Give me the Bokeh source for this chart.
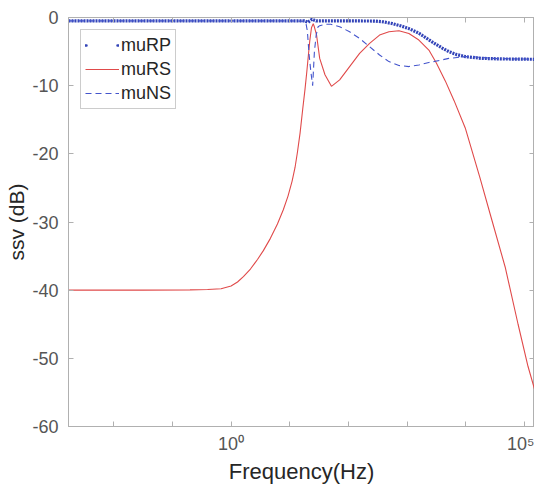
import numpy as np
from bokeh.plotting import figure
from bokeh.models import (FixedTicker, LogAxis, LinearAxis, Legend, LegendItem,
                          ColumnDataSource, Range1d)
from bokeh.embed import file_html
from bokeh.resources import INLINE

# ---------------- data (log10 of frequency in Hz, level in dB) ----------------
logf_rp = [-2.77, 1.25, 1.31, 1.38, 1.45, 2.02, 2.45, 2.60, 2.75, 2.90, 3.05, 3.20,
           3.42, 3.60, 3.71, 3.85, 3.99, 4.26, 4.60, 5.17]
db_rp = [-0.5, -0.5, -0.7, -0.25, -0.5, -0.5, -0.52, -0.65, -0.9, -1.25, -1.7, -2.3,
         -3.55, -4.5, -5.0, -5.45, -5.74, -5.99, -6.08, -6.13]

logf_rs = [-2.77, -1.50, -0.70, -0.40, -0.17, 0.00, 0.11, 0.21, 0.33, 0.45, 0.55, 0.67,
           0.79, 0.89, 0.97, 1.04, 1.09, 1.13, 1.175, 1.22, 1.26, 1.29, 1.34, 1.37,
           1.40, 1.42, 1.457, 1.51, 1.60, 1.71, 1.85, 2.02, 2.19, 2.36, 2.53, 2.69,
           2.86, 3.03, 3.20, 3.37, 3.50, 3.65, 3.80, 3.99, 4.24, 4.43, 4.67, 4.89,
           5.06, 5.17]
db_rs = [-40.0, -40.0, -39.95, -39.9, -39.8, -39.4, -38.8, -38.0, -36.9, -35.5, -34.2, -32.4,
         -30.3, -28.2, -26.2, -24.0, -22.0, -19.8, -17.0, -13.5, -10.5, -8.0, -3.5, -1.5,
         -0.9, -1.4, -2.6, -6.0, -8.4, -10.1, -9.15, -7.2, -5.26, -3.8, -2.58, -2.09,
         -1.94, -2.34, -3.31, -4.77, -6.7, -9.3, -12.2, -16.2, -23.5, -29.3, -36.6, -45.0,
         -51.2, -54.5]

logf_ns = [-2.77, 1.00, 1.27, 1.30, 1.33, 1.36, 1.39, 1.42, 1.45, 1.48, 1.51, 1.60,
           1.70, 1.85, 2.02, 2.19, 2.36, 2.53, 2.69, 2.86, 3.03, 3.20, 3.37, 3.55,
           3.71, 3.99, 4.10, 4.50, 5.17]
db_ns = [-0.5, -0.5, -0.55, -2.0, -5.5, -8.0, -10.0, -5.0, -2.6, -1.4, -1.2, -1.0,
         -1.0, -1.36, -2.09, -3.07, -4.28, -5.5, -6.47, -7.05, -7.2, -6.96, -6.6, -6.3,
         -6.0, -5.74, -5.75, -6.02, -6.12]

x_limits_log = [-2.77, 5.17]
y_limits = [-60, 0]
y_ticks = [-60, -50, -40, -30, -20, -10, 0]
x_major_ticks = [1, 100000]
x_minor_ticks = [0.01, 0.1, 10, 100, 1000, 10000]
x_tick_labels = {1: "10\u2070", 100000: "10\u2075"}
y_tick_labels = {t: str(t) for t in y_ticks}

f_rp = [10 ** v for v in logf_rp]
f_rs = [10 ** v for v in logf_rs]
f_ns = [10 ** v for v in logf_ns]

FONT = "Liberation Sans"
AXC = "#b0b0b0"
TICKC = "#555555"
LABC = "#262626"

p = figure(width=534, height=486, x_axis_type="log",
           x_range=Range1d(10 ** x_limits_log[0], 10 ** x_limits_log[1]),
           y_range=Range1d(*y_limits),
           output_backend="svg", toolbar_location=None,
           min_border_left=68, min_border_right=0, min_border_top=17, min_border_bottom=40)
p.grid.visible = False
p.outline_line_color = AXC
p.background_fill_color = "white"
p.border_fill_color = "white"

xt = FixedTicker(ticks=x_major_ticks, minor_ticks=x_minor_ticks)
yt = FixedTicker(ticks=y_ticks, minor_ticks=[])

xa = p.below[0]
xa.ticker = xt
xa.major_label_overrides = x_tick_labels
xa.axis_label = "Frequency(Hz)"
ya = p.left[0]
ya.ticker = yt
ya.major_label_overrides = y_tick_labels
ya.axis_label = "ssv (dB)"

for ax in (xa, ya):
    ax.axis_line_color = AXC
    ax.major_tick_line_color = AXC
    ax.minor_tick_line_color = AXC
    ax.major_tick_in = 5
    ax.major_tick_out = 0
    ax.minor_tick_in = 5
    ax.minor_tick_out = 0
    ax.major_label_text_font = FONT
    ax.major_label_text_font_size = "18px"
    ax.major_label_text_color = TICKC
    ax.axis_label_text_font = FONT
    ax.axis_label_text_font_style = "normal"
    ax.axis_label_text_color = LABC
xa.axis_label_text_font_size = "22px"
ya.axis_label_text_font_size = "21px"
xa.major_label_standoff = 7
xa.axis_label_standoff = 2
ya.major_label_standoff = 10
ya.axis_label_standoff = 1

top = LogAxis(ticker=xt, major_label_text_font_size="1px", major_label_text_alpha=0,
              major_label_standoff=0,
              axis_line_color=AXC, major_tick_line_color=AXC, minor_tick_line_color=AXC,
              major_tick_in=5, major_tick_out=0, minor_tick_in=5, minor_tick_out=0)
right = LinearAxis(ticker=yt, major_label_text_font_size="1px", major_label_text_alpha=0,
                   major_label_standoff=0,
                   axis_line_color=AXC, major_tick_line_color=AXC,
                   major_tick_in=5, major_tick_out=0, minor_tick_line_color=None)
p.add_layout(top, "above")
p.add_layout(right, "right")

BLUE = "#3344b8"
RED = "#e04a4a"
DBLUE = "#4455cc"

r_rp = p.line(f_rp, db_rp, line_color=BLUE, line_width=3.2, line_dash="2 1")
r_rs = p.line(f_rs, db_rs, line_color=RED, line_width=1.1)
r_ns = p.line(f_ns, db_ns, line_color=DBLUE, line_width=1.1, line_dash="6 4")
proxy = p.line(x=[f_rp[0]], y=[db_rp[0]], line_color=BLUE, line_width=2.5,
               line_dash="1 31", line_cap="round")

legend = Legend(items=[LegendItem(label="muRP", renderers=[proxy]),
                       LegendItem(label="muRS", renderers=[r_rs]),
                       LegendItem(label="muNS", renderers=[r_ns])],
                location="top_left", margin=12, padding=4, spacing=2,
                glyph_width=34, glyph_height=22, label_height=22, label_standoff=2,
                label_text_font=FONT, label_text_font_size="18px", label_text_color=LABC,
                border_line_color="#9a9a9a", border_line_width=1,
                background_fill_alpha=1.0)
p.add_layout(legend)

open("out.html", "w").write(file_html(p, INLINE))
